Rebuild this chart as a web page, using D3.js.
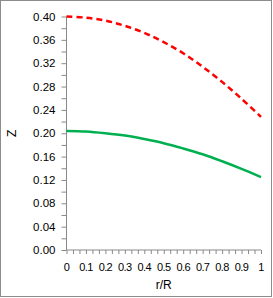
<!DOCTYPE html>
<html><head><meta charset="utf-8">
<script src="https://cdn.jsdelivr.net/npm/d3@7"></script>
<style>
html,body{margin:0;padding:0;background:#fff;}
svg{display:block;}
text{font-family:"Liberation Sans",Arial,sans-serif;fill:#000;}
</style></head>
<body>
<script>
const rR = [0, 0.1, 0.2, 0.3, 0.4, 0.5, 0.6, 0.7, 0.8, 0.9, 1.0];
const zRed = [0.400, 0.398, 0.393, 0.384, 0.372, 0.356, 0.337, 0.314, 0.288, 0.259, 0.228];
const zGreen = [0.204, 0.203, 0.200, 0.196, 0.190, 0.183, 0.174, 0.164, 0.152, 0.139, 0.125];
const yTicks = [0.00, 0.04, 0.08, 0.12, 0.16, 0.20, 0.24, 0.28, 0.32, 0.36, 0.40];
const xTickLabels = ["0", "0.1", "0.2", "0.3", "0.4", "0.5", "0.6", "0.7", "0.8", "0.9", "1"];

const W = 273, H = 298;
const svg = d3.select("body").append("svg").attr("width", W).attr("height", H);

svg.append("rect").attr("x", 0.5).attr("y", 0.5).attr("width", 271).attr("height", 296)
  .attr("fill", "#fff").attr("stroke", "#8c8c8c").attr("stroke-width", 1);

const x = d3.scaleLinear().domain([0, 1]).range([66.5, 261]);
const y = d3.scaleLinear().domain([0, 0.4]).range([250, 16.5]);

// Y axis
const yAxis = d3.axisLeft(y).tickValues(d3.range(0, 0.4001, 0.02)).tickSize(5)
  .tickFormat(d => {
    const k = Math.round(d * 100);
    return k % 4 === 0 ? d3.format(".2f")(d) : "";
  });
const gy = svg.append("g").attr("transform", `translate(${x(0)},0)`).call(yAxis);
gy.selectAll("path.domain").attr("stroke", "#898989").attr("d", `M0,${y(0)}V${y(0.4)}`);
gy.selectAll("line").attr("stroke", "#898989");
gy.selectAll("text").attr("x", -11).attr("font-size", "11.5px")
  .attr("font-family", "Liberation Sans, Arial, sans-serif").attr("fill", "#000");

// X axis
const xAxis = d3.axisBottom(x).tickValues(d3.range(0, 31).map(i => i / 30)).tickSize(4)
  .tickFormat(() => "");
const gx = svg.append("g").attr("transform", `translate(0,${y(0)})`).call(xAxis);
gx.selectAll("path.domain").attr("stroke", "#898989").attr("d", `M${x(0)},0H${x(1)}`);
gx.selectAll("line").attr("stroke", "#898989");

svg.append("g").selectAll("text").data(xTickLabels).join("text")
  .attr("x", (d, i) => x(rR[i])).attr("y", 271)
  .attr("text-anchor", "middle").attr("font-size", "11px")
  .attr("letter-spacing", "-0.6px")
  .text(d => d);

// Axis titles
svg.append("text").attr("transform", `translate(16,${(y(0) + y(0.4)) / 2}) rotate(-90)`)
  .attr("text-anchor", "middle").attr("font-size", "12px").text("Z");
svg.append("text").attr("x", (x(0) + x(1)) / 2).attr("y", 289)
  .attr("text-anchor", "middle").attr("font-size", "12px").text("r/R");

// Lines
const line = d3.line().x((d, i) => x(rR[i])).y(d => y(d)).curve(d3.curveCatmullRom.alpha(0.5));
svg.append("path").datum(zGreen).attr("d", line).attr("fill", "none")
  .attr("stroke", "#00B050").attr("stroke-width", 2.5);
svg.append("path").datum(zRed).attr("d", line).attr("fill", "none")
  .attr("stroke", "#FF0000").attr("stroke-width", 2.5).attr("stroke-dasharray", "6,4");
</script>
</body></html>
